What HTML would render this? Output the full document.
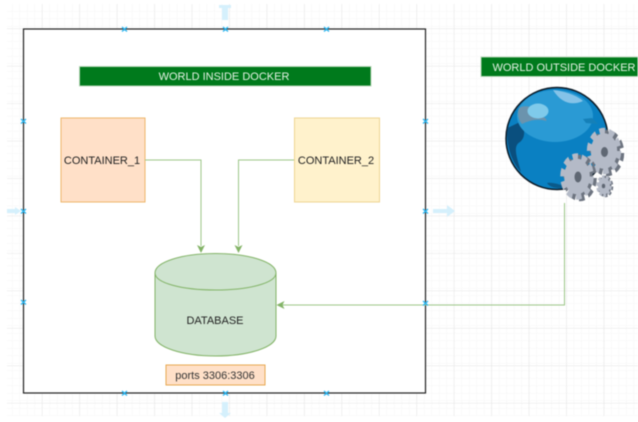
<!DOCTYPE html>
<html><head><meta charset="utf-8"><style>
html,body{margin:0;padding:0;background:#fff}
svg{display:block;position:absolute;left:0;top:0;filter:blur(.5px)}
text{font-family:"Liberation Sans",sans-serif;font-size:11px;text-anchor:middle}
</style></head><body>
<svg width="638" height="422" viewBox="0 0 638 422" xmlns="http://www.w3.org/2000/svg">
<defs>
<pattern id="fine" width="7.49" height="7.49" patternUnits="userSpaceOnUse" x="5" y="4"><path d="M7.49 0V7.49H0" fill="none" stroke="#f6f6f6" stroke-width="1"/></pattern>
<pattern id="major" width="37.45" height="37.45" patternUnits="userSpaceOnUse" x="5" y="-8.5"><path d="M37.45 0V37.45H0" fill="none" stroke="#e4e4e4" stroke-width="1"/></pattern>
<g id="gearDark"><circle r="16.500" fill="#6d7480"/><circle r="18.500" fill="none" stroke="#6d7480" stroke-width="6" stroke-dasharray="7 4.620"/></g>
<g id="gearFace"><circle r="16.500" fill="#b4bac7"/><circle r="18.500" fill="none" stroke="#b4bac7" stroke-width="6" stroke-dasharray="7 4.620"/></g>
</defs>
<rect width="638" height="422" fill="#fff"/>
<rect x="7" y="4" width="631" height="412" fill="url(#fine)"/>
<rect x="7" y="4" width="631" height="412" fill="url(#major)"/>

<!-- faded move arrows -->
<g fill="#d5f0fc">
<path d="M219 5H231V8H228V20H222V8H219Z"/>
<path d="M222 402H228V413H231L225 418L219 413H222Z"/>
<path d="M7 209H15V213H7Z M15 207L21 211L15 215Z"/>
<path d="M433 209H447V205L455 211L447 217V213H433Z"/>
</g>

<!-- main frame -->
<rect x="23.500" y="29" width="402" height="364" fill="#fff" stroke="#222" stroke-width="1.200"/>

<!-- header -->
<rect x="79.500" y="66.500" width="291.500" height="19.500" fill="#007a1c" stroke="#b8d6b8" stroke-width="1"/>
<text x="224" y="80" fill="#e4f2e4">WORLD INSIDE DOCKER</text>

<!-- containers -->
<rect x="61" y="118" width="84" height="84" fill="#ffe0c8" stroke="#eeb66a" stroke-width="1"/>
<text x="102" y="164" fill="#222">CONTAINER_1</text>
<rect x="294.500" y="118" width="85" height="84" fill="#fff2cc" stroke="#eed592" stroke-width="1"/>
<text x="336" y="164" fill="#222">CONTAINER_2</text>

<!-- database -->
<path d="M155 273C155 262 182 253.500 215.500 253.500C249 253.500 276 262 276 273V336C276 347 249 356 215.500 356C182 356 155 347 155 336Z" fill="#cfe4d0" stroke="#82b366" stroke-width="1"/>
<path d="M155 273C155 283 182 290 215.500 290C249 290 276 283 276 273" fill="none" stroke="#82b366" stroke-width="1"/>
<text x="215" y="324" fill="#222">DATABASE</text>

<!-- ports -->
<rect x="166" y="365" width="99" height="20" fill="#ffe0c8" stroke="#e8a850" stroke-width="1"/>
<text x="215" y="379" fill="#333">ports 3306:3306</text>

<!-- connectors -->
<g fill="none" stroke="#9cc688" stroke-width="1">
<path d="M145 160H201V246"/>
<path d="M294 160H238.500V246"/>
<path d="M564.500 203V305H282"/>
</g>
<g fill="#82b366">
<path d="M201 253L197 245L201 247L205 245Z"/>
<path d="M238.500 253L234.500 245L238.500 247L242.500 245Z"/>
<path d="M276.500 305L284.500 301L282.500 305L284.500 309Z"/>
</g>

<!-- handles -->
<g stroke="#29b6f2" stroke-width="1.300" fill="none">
<path d="M122 27L127 31.500M127 27L122 31.500M223 27L228 31.500M228 27L223 31.500M324 27L329 31.500M329 27L324 31.500"/>
<path d="M122 391L127 395.500M127 391L122 395.500M223 391L228 395.500M228 391L223 395.500M324 391L329 395.500M329 391L324 395.500"/>
<path d="M21 119L26 123.500M26 119L21 123.500M21 209L26 213.500M26 209L21 213.500M21 300L26 304.500M26 300L21 304.500"/>
<path d="M423 119L428 123.500M428 119L423 123.500M423 209L428 213.500M428 209L423 213.500M423 301L428 305.500M428 301L423 305.500"/>
</g>

<!-- outside header -->
<rect x="481" y="57" width="157" height="19.500" fill="#007a1c" stroke="#b8d6b8" stroke-width="1"/>
<text x="564" y="71" fill="#e4f2e4">WORLD OUTSIDE DOCKER</text>

<!-- globe -->
<circle cx="557" cy="138.500" r="51" fill="#0a80c2" stroke="#0c1a26" stroke-width="1.500"/>
<path d="M507.500 128C506 142 510 160 521 172C516 155 513 146 520 142C526 137 525 128 520 122Z" fill="#0a4f7e"/>
<ellipse cx="555" cy="116" rx="38" ry="26" fill="#2a9ad4"/>
<path d="M553 90C565 91 578 96 583 101C572 106 561 103 553 90Z" fill="#85c3e8"/>
<path d="M519 108C526 104 536 107 543 117C546 118 547 120 546 121C537 118 528 121 522 124C518 120 517 113 519 108Z" fill="#6b93ad"/>
<ellipse cx="538" cy="111" rx="10.500" ry="7.500" fill="#7fcaea"/>
<path d="M583 119L592 118L598 124L586 123Z" fill="#1580b8"/>
<path d="M547 183C553 182 562 185 568 188C558 189 550 188 547 183Z" fill="#0a5a8a"/>

<!-- gears -->
<use href="#gearDark" transform="translate(607,153) scale(.8,1.08)"/>
<use href="#gearFace" transform="translate(604,151) scale(.8,1.08)"/>
<ellipse cx="604.500" cy="152" rx="3.500" ry="5" fill="#5f6773"/>

<use href="#gearDark" transform="translate(580,178) scale(.78,1.08)"/>
<use href="#gearFace" transform="translate(577,176.500) scale(.78,1.08)"/>
<ellipse cx="578" cy="177" rx="3.500" ry="5.500" fill="#5f6773"/>

<use href="#gearDark" transform="translate(605.500,186.500) scale(.36,.5)"/>
<use href="#gearFace" transform="translate(604,186) scale(.36,.5)"/>
<ellipse cx="603.500" cy="186" rx="1.700" ry="2.300" fill="#5f6773"/>
</svg>
</body></html>
